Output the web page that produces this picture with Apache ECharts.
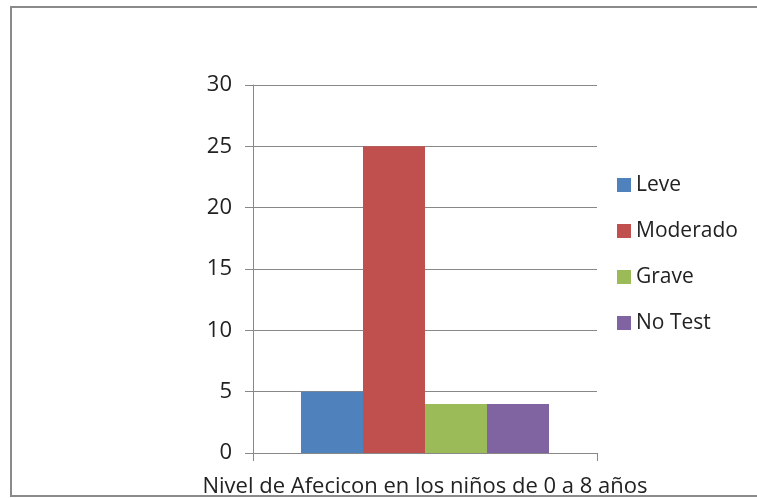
<!DOCTYPE html>
<html><head><meta charset="utf-8">
<script src="https://cdn.jsdelivr.net/npm/echarts@6/dist/echarts.min.js"></script>
<style>html,body{margin:0;padding:0;background:#fff}#c{width:757px;height:498px}</style>
</head><body><div id="c"></div>
<script>
const categories = ['Nivel de Afecicon en los niños de 0 a 8 años'];
const seriesNames = ['Leve', 'Moderado', 'Grave', 'No Test'];
const seriesValues = [[5], [25], [4], [4]];
const colors = ['#4f81bd', '#c0504d', '#9bbb59', '#8064a2'];
const yTicks = [0, 5, 10, 15, 20, 25, 30];

const chart = echarts.init(document.getElementById('c'), null, {renderer: 'canvas'});
const font = "'Open Sans', 'Noto Sans', sans-serif";
chart.setOption({
  animation: false,
  backgroundColor: '#fff',
  graphic: [{
    type: 'rect', z: -1,
    shape: {x: 11, y: 7, width: 760, height: 489},
    style: {fill: 'none', stroke: '#8a8a8a', lineWidth: 2}
  }],
  grid: {left: 253, right: 160, top: 85, bottom: 45, outerBoundsMode: 'none', containLabel: false},
  legend: {
    orient: 'vertical', left: 612, top: 169,
    itemWidth: 14, itemHeight: 14, itemGap: 24,
    icon: 'rect',
    textStyle: {fontSize: 21, lineHeight: 22, color: '#222', fontFamily: font},
    data: seriesNames
  },
  xAxis: {
    type: 'category', data: categories,
    axisLine: {lineStyle: {color: '#888'}},
    axisTick: {show: true, length: 8, lineStyle: {color: '#888'}},
    axisLabel: {show: false},
    name: categories[0], nameLocation: 'middle', nameGap: 23,
    nameTextStyle: {fontSize: 22, color: '#222', fontFamily: font}
  },
  yAxis: {
    type: 'value', min: yTicks[0], max: yTicks[yTicks.length - 1], interval: 5,
    axisLine: {show: true, lineStyle: {color: '#888'}},
    axisTick: {show: true, length: 8, lineStyle: {color: '#888'}},
    splitLine: {lineStyle: {color: '#888'}},
    axisLabel: {fontSize: 22, color: '#222', fontFamily: font, margin: 21}
  },
  series: seriesNames.map((n, i) => ({
    name: n, type: 'bar', data: seriesValues[i],
    barWidth: 62, barGap: '0%',
    itemStyle: {color: colors[i]}
  }))
});
</script></body></html>
